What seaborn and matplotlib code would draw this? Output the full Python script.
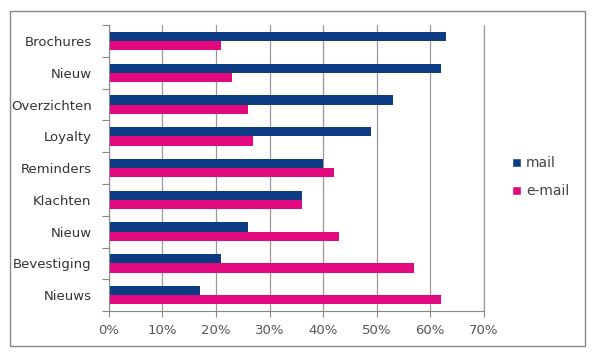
import pandas as pd
import matplotlib
matplotlib.use("Agg")
import matplotlib.pyplot as plt
import matplotlib.patches as mpatches
import seaborn as sns
import numpy as np

categories = ["Brochures", "Nieuw", "Overzichten", "Loyalty", "Reminders",
              "Klachten", "Nieuw", "Bevestiging", "Nieuws"]
mail = [63, 62, 53, 49, 40, 36, 26, 21, 17]
email = [21, 23, 26, 27, 42, 36, 43, 57, 62]
series = ["mail", "e-mail"]
colors = ["#0d3c82", "#e2097f"]
x_ticks = [0, 10, 20, 30, 40, 50, 60, 70]

# "Nieuw" occurs twice, so use unique keys for the rows and label them afterwards
keys = [f"{i}_{c}" for i, c in enumerate(categories)]
data = pd.DataFrame({
    "categorie": keys * 2,
    "waarde": mail + email,
    "kanaal": [series[0]] * len(categories) + [series[1]] * len(categories),
})

sns.set_style("white")
plt.rcParams["font.family"] = ["DejaVu Sans"]

fig = plt.figure(figsize=(5.95, 3.58), dpi=100)
ax = fig.add_axes([0.183, 0.131, 0.630, 0.799])

sns.barplot(data=data, y="categorie", x="waarde", hue="kanaal", palette=colors,
            hue_order=series, order=keys, width=0.58, ax=ax,
            saturation=1, errorbar=None, legend=False)
for p in ax.patches:
    p.set_linewidth(0)

ax.set_xlim(0, 70)
ax.set_ylim(len(categories) - 0.5, -0.5)
ax.set_xticks(x_ticks)
ax.set_xticklabels([f"{t}%" for t in x_ticks], color="#555555", fontsize=9.5)
ax.set_yticks(list(range(len(categories))))
ax.set_yticklabels(categories)
ax.set_yticks(np.arange(len(categories) + 1) - 0.5, minor=True)
ax.tick_params(axis="y", which="major", left=False, labelsize=9.5, labelcolor="#333333", pad=9)
ax.tick_params(axis="y", which="minor", left=True, length=5, color="#888888", width=0.8, direction="out")
ax.tick_params(axis="x", which="major", bottom=True, length=4, color="#888888", width=0.8, direction="out", pad=5)
ax.xaxis.grid(True, color="#999999", linewidth=0.9)
ax.set_axisbelow(True)
ax.set_xlabel("")
ax.set_ylabel("")
for s in ["top", "right"]:
    ax.spines[s].set_visible(False)
ax.spines["left"].set_color("#888888")
ax.spines["bottom"].set_color("#888888")
ax.axvline(70, color="#999999", linewidth=0.9, clip_on=False)

handles = [mpatches.Patch(facecolor=c, label=l) for c, l in zip(colors, series)]
fig.legend(handles=handles, loc="center left", bbox_to_anchor=(0.84, 0.505),
           frameon=False, fontsize=10, handlelength=0.6, handleheight=0.6,
           handletextpad=0.4, labelspacing=1.0, labelcolor="#444444")

fig.patches.append(mpatches.Rectangle((0.016, 0.034), 0.968, 0.935, transform=fig.transFigure,
                                      fill=False, edgecolor="#888888", linewidth=1.0))

fig.savefig("out.png", dpi=100)
